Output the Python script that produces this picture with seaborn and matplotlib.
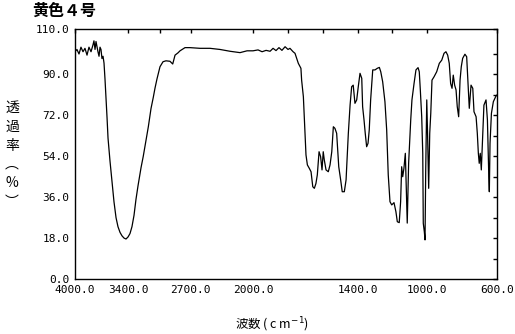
import numpy as np
import pandas as pd
import matplotlib
matplotlib.use("Agg")
import matplotlib.pyplot as plt
import seaborn as sns

title = "黄色４号"
wavenumber = [4000, 3978, 3955, 3933, 3910, 3888, 3865, 3843, 3820, 3798, 3787, 3775, 3764, 3742,
              3730, 3719, 3708, 3697, 3685, 3674, 3663, 3652, 3640, 3629, 3607, 3584, 3562, 3539,
              3517, 3494, 3472, 3449, 3427, 3404, 3382, 3360, 3337, 3315, 3292, 3258, 3233, 3202,
              3176, 3146, 3120, 3101, 3079, 3045, 3011, 2978, 2933, 2902, 2876, 2843, 2820, 2764,
              2708, 2596, 2483, 2371, 2258, 2146, 2067, 2000,
              1971, 1948, 1925, 1902, 1885, 1868, 1851, 1834, 1816, 1799, 1788, 1770, 1759, 1747,
              1740, 1725, 1721, 1711, 1706, 1702, 1696, 1688, 1677, 1667, 1657, 1648, 1639, 1631,
              1621, 1612, 1604, 1597, 1591, 1581, 1568, 1558, 1548, 1539, 1530, 1520, 1508, 1497,
              1488, 1476, 1466, 1453, 1443, 1434, 1425, 1415, 1405, 1396, 1386, 1376, 1371, 1363,
              1356, 1348, 1340, 1333, 1325, 1313, 1300, 1287, 1275, 1267, 1256, 1243, 1233, 1224,
              1214, 1204, 1191, 1180, 1172, 1161, 1153, 1147, 1141, 1134, 1126, 1118, 1115, 1107,
              1095, 1088, 1076, 1065, 1053, 1046, 1040, 1032, 1026, 1023, 1017, 1013, 1009, 1003,
              998, 992, 986, 980, 973, 961, 946, 931, 917, 904, 893, 883, 874, 866, 858, 851, 843,
              835, 828, 820, 812, 805, 797, 784, 774, 766, 759, 749, 739, 732, 720, 713, 707, 702,
              696, 690, 682, 675, 663, 655, 647, 644, 640, 632, 621, 606, 600]
transmittance = [100, 101, 99, 102, 100, 101.5, 98.5, 102, 100, 103, 104.8, 101, 104.5, 100,
                 98, 102, 101, 97, 98, 95, 88, 80, 71, 62, 52, 43, 34, 27,
                 23, 20.5, 19, 18, 17.6, 18.5, 20, 23, 28, 35, 41, 49, 54, 61,
                 67, 75, 80, 84, 88, 93.4, 95.6, 96, 95.8, 94.6, 98.5, 99.5, 100.4, 101.8,
                 101.8, 101.5, 101.5, 101, 100.2, 99.6, 100.4, 100.4,
                 100.8, 100, 100.6, 100.2, 101.5, 100.5, 101.8, 100.6, 102.2, 101, 101.5, 100, 99.3, 96.5,
                 94.9, 92.7, 87.5, 80.2, 71.4, 63.4, 54.6, 50.2, 48.7, 47.2, 40.6, 39.9, 42, 45.8,
                 56, 53.8, 48, 56, 52.4, 48, 47.2, 50.2, 56, 67, 66.3, 64.1, 49.4, 43.6,
                 38.4, 38.4, 43.6, 64.1, 76.5, 84.6, 85.3, 77.3, 78.8, 84.6, 90.5, 88.3, 75.8, 70,
                 64.1, 58.2, 59.7, 65.6, 78.8, 92, 92, 92.7, 93.1, 91.2, 86.8, 78, 65.6, 45.8,
                 34, 32.6, 33.6, 29.6, 25.2, 24.8, 34, 49.4, 45, 48.7, 55.3, 34, 24.6, 51,
                 70, 78.8, 86, 92, 93, 91.2, 83.2, 71.4, 55.3, 24.5, 20.8, 17.2, 48, 78.8,
                 62.6, 39.9, 64.1, 72.9, 87.5, 89, 91.2, 94.9, 96.3, 99.3, 100, 98.5, 94.9, 86, 83.9, 89.7, 85.3,
                 83.2, 75.8, 71.4, 87.5, 93.4, 97.1, 98.9, 97.8, 86, 75.1, 85.3, 83.9, 73.6, 71.4, 64.1, 55.3, 50.9,
                 55.3, 48, 62.6, 76.5, 78.8, 70, 45, 38.4, 59.7, 72.9, 78, 80.5, 81]

x_ticks = [4000, 3400, 3050, 2700, 2000, 1800, 1600, 1400, 1200, 1000, 600]
x_tick_labels = ["4000.0", "3400.0", "", "2700.0", "2000.0", "", "", "1400.0", "", "1000.0", "600.0"]
y_ticks = [0, 18, 36, 54, 72, 90, 110]
y_tick_labels = ["0.0", "18.0", "36.0", "54.0", "72.0", "90.0", "110.0"]
y_minor = [9, 27, 45, 63, 81, 99]

df = pd.DataFrame({"wn": wavenumber, "T": transmittance})

sns.set_theme(style="white")
plt.rcParams["font.family"] = ["DejaVu Sans Mono", "Noto Sans CJK JP", "DejaVu Sans"]

fig = plt.figure(figsize=(5.15, 3.34), dpi=100)
ax = fig.add_axes([75/515, 1-279/334, 422/515, 250/334])

r = (178/2000) / (244/1400)
def fwd(x):
    x = np.asarray(x, dtype=float)
    return np.where(x > 2000, 2000 + (x - 2000) * r, x)
def inv(y):
    y = np.asarray(y, dtype=float)
    return np.where(y > 2000, 2000 + (y - 2000) / r, y)

ax.set_xscale("function", functions=(fwd, inv))
sns.lineplot(data=df, x="wn", y="T", sort=False, estimator=None, color="black", lw=0.9, ax=ax)
ax.set_xlim(4000, 600)
ax.set_ylim(0, 110)

ax.set_xticks(x_ticks)
ax.set_xticklabels(x_tick_labels, fontsize=8, family="DejaVu Sans Mono")
ax.xaxis.set_minor_locator(matplotlib.ticker.NullLocator())
ax.set_yticks(y_ticks)
ax.set_yticklabels(y_tick_labels, fontsize=8, family="DejaVu Sans Mono")
ax.set_yticks(y_minor, minor=True)
ax.tick_params(axis="both", which="both", direction="in", top=True, right=True,
               length=3, width=1, color="black", labelcolor="black", pad=4)
for s in ax.spines.values():
    s.set_color("black")
    s.set_linewidth(1)
ax.set_xlabel("")
ax.set_ylabel("")

fig.text(32/515, 1-11/334, title, fontsize=11.5, fontweight="bold",
         family=["Noto Sans CJK JP", "DejaVu Sans"], va="center", ha="left", color="black")
fig.text(12/515, 1-155/334, "透\n過\n率\n︵\n%\n︶", fontsize=10, linespacing=1.45,
         family=["Noto Sans CJK JP", "DejaVu Sans"], va="center", ha="center", color="black")
fig.text(272/515, 1-325/334, "波数 ( c m$^{-1}$)", fontsize=9,
         family=["Noto Sans CJK JP", "DejaVu Sans"], va="center", ha="center", color="black")

fig.savefig("out.png", dpi=100)
